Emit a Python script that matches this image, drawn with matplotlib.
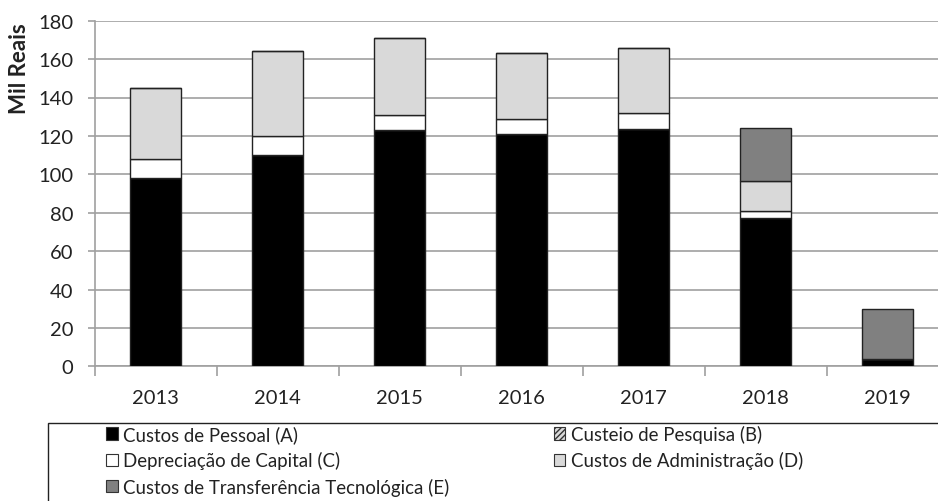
import matplotlib.pyplot as plt
import matplotlib.patches as mpatches
import numpy as np

# dados (mil reais)
anos = ['2013', '2014', '2015', '2016', '2017', '2018', '2019']
pessoal = [98, 110, 123, 121, 123.5, 77, 4]
pesquisa = [0, 0, 0, 0, 0, 0, 0]
depreciacao = [10, 10, 8, 8, 8.5, 4, 0]
administracao = [37, 44, 40, 34, 34, 15.5, 0]
transferencia = [0, 0, 0, 0, 0, 27.5, 26]

series = [
    ('Custos de Pessoal (A)', pessoal, 'black', None),
    ('Custeio de Pesquisa (B)', pesquisa, '#d9d9d9', '//////'),
    ('Depreciação de Capital (C)', depreciacao, 'white', None),
    ('Custos de Administração (D)', administracao, '#d9d9d9', None),
    ('Custos de Transferência Tecnológica (E)', transferencia, '#808080', None),
]

plt.rcParams['font.family'] = ['Lato', 'DejaVu Sans']
plt.rcParams['hatch.color'] = '#404040'

W, H = 938, 502
fig = plt.figure(figsize=(W / 100, H / 100), dpi=100)
ax = fig.add_axes([94.5 / W, 1 - 367.3 / H, 854 / W, 345.6 / H])

x = np.arange(len(anos))
base = np.zeros(len(anos))
handles = []
for nome, vals, cor, hatch in series:
    vals = np.array(vals, dtype=float)
    ax.bar(x, vals, 0.41, bottom=base, color=cor, edgecolor='#222222',
           linewidth=1.0, hatch=hatch, zorder=3)
    base += vals
    handles.append(mpatches.Patch(facecolor=cor, edgecolor='#333333',
                                  linewidth=0.8, hatch=hatch, label=nome))

ax.set_xlim(-0.5, len(anos) - 0.5)
ax.set_ylim(0, 180)
ax.set_yticks(np.arange(0, 181, 20))
ax.grid(axis='y', color='#a0a0a0', linewidth=1.2, zorder=0)
for s in ['right', 'top']:
    ax.spines[s].set_visible(False)
for s in ['left', 'bottom']:
    ax.spines[s].set_color('#a0a0a0')
    ax.spines[s].set_linewidth(1.2)

ax.set_xticks(x)
ax.set_xticklabels(anos)
ax.set_xticks(np.arange(-0.5, len(anos), 1), minor=True)
ax.tick_params(axis='x', which='major', length=0, pad=16, labelsize=14.5, labelcolor='#222222')
ax.tick_params(axis='x', which='minor', length=7, color='#a0a0a0', width=1.2, direction='out')
ax.tick_params(axis='y', length=5.3, color='#a0a0a0', width=1.2, pad=10, labelsize=14.5, labelcolor='#222222')

fig.text(19 / W, 1 - 69 / H, 'Mil Reais', rotation=90, ha='center', va='center',
         fontsize=16, fontweight='bold', color='#222222')

# caixa da legenda
fig.patches.append(mpatches.Rectangle((48 / W, -0.05), 1.0, 1 - 424 / H + 0.05,
                                      transform=fig.transFigure, fill=False,
                                      edgecolor='#222222', linewidth=1.0))
ordem = [0, 2, 4, 1, 3]
leg = fig.legend([handles[i] for i in ordem], [handles[i].get_label() for i in ordem],
                 ncol=2, loc='upper left', bbox_to_anchor=(106 / W, 1 - 426 / H),
                 frameon=False, fontsize=13.4, handlelength=0.62, handleheight=0.62,
                 handletextpad=0.3, columnspacing=5.6, labelspacing=0.44,
                 borderpad=0, borderaxespad=0)
for t in leg.get_texts():
    t.set_color('#222222')

fig.savefig('out.png', dpi=100)
